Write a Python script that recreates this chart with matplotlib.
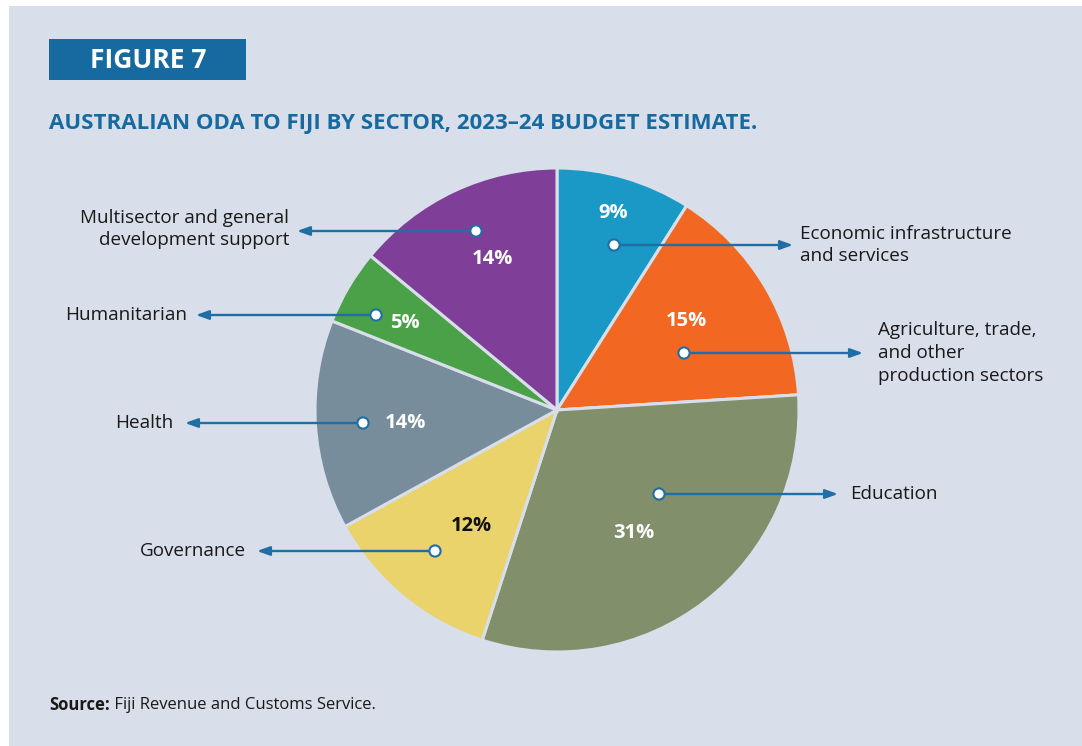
import matplotlib
matplotlib.use("Agg")
import matplotlib.pyplot as plt
from matplotlib.patches import Rectangle, Circle
import numpy as np

# Sector shares (%) of Australian ODA to Fiji, 2023-24 budget estimate
sectors = [
    "Economic infrastructure\nand services",
    "Agriculture, trade,\nand other\nproduction sectors",
    "Education",
    "Governance",
    "Health",
    "Humanitarian",
    "Multisector and general\ndevelopment support",
]
shares = [9, 15, 31, 12, 14, 5, 14]
colors = ["#1a98c6", "#f26722", "#828f6b", "#e9d36a", "#778d9c", "#4aa147", "#7f3f98"]
pct_colors = ["white", "white", "white", "#111111", "white", "white", "white"]

W, H = 1082, 746
BG = "#d8dfea"
BLUE = "#176aa0"
LINE = "#1f6fa6"
TXT = "#1a1818"
FONT = "Open Sans"

fig = plt.figure(figsize=(W / 100, H / 100), dpi=100)
fig.patch.set_facecolor("white")
ax = fig.add_axes([0, 0, 1, 1])

cx, cy, R = 557, H - 410, 242

wedges, _ = ax.pie(shares, colors=colors, startangle=90, counterclock=False,
                   center=(cx, cy), radius=R,
                   wedgeprops=dict(edgecolor=BG, linewidth=2.2))
for w in wedges:
    w.set_zorder(2)

ax.set_xlim(0, W)
ax.set_ylim(0, H)
ax.set_aspect("auto")
ax.axis("off")

# panel background
ax.add_patch(Rectangle((9, 0), W - 9, H - 6, facecolor=BG, edgecolor="none", zorder=0))

# percentage labels placed along each wedge (pixel positions, y from top)
pct_pos = [(613, 213), (686, 321), (634, 533), (471, 526), (405, 423), (405, 323), (492, 259)]
for v, (x, y), c in zip(shares, pct_pos, pct_colors):
    ax.text(x, H - y, f"{v}%", color=c, fontsize=14.5, fontweight="bold",
            fontstretch="normal", family=FONT, ha="center", va="center", zorder=5)

# leader arrows: dot position, arrow tip, text anchor
dots = [(614, 245), (684, 353), (659, 494), (435, 551), (363, 423), (376, 315), (476, 231)]
tips = [(793, 245), (863, 353), (838, 494), (257, 551), (185, 423), (196, 315), (297, 231)]
txt_pos = [(800, 245), (878, 353), (850, 494), (246, 551), (173, 423), (187, 315), (289, 229)]
for name, (dx, dy), (tx, ty), (lx, ly) in zip(sectors, dots, tips, txt_pos):
    ax.annotate("", xy=(tx, H - ty), xytext=(dx, H - dy),
                arrowprops=dict(arrowstyle="-|>,head_length=0.75,head_width=0.27",
                                color=LINE, lw=1.7, shrinkA=0, shrinkB=0),
                zorder=4)
    ax.add_patch(Circle((dx, H - dy), 5.6, facecolor="white", edgecolor=LINE,
                        lw=1.5, zorder=6))
    right = lx > cx
    ax.text(lx, H - ly, name, color=TXT, fontsize=13.6, family=FONT,
            ha="left" if right else "right", va="center",
            multialignment="left" if right else "right",
            linespacing=1.33, zorder=5)

# figure tag
ax.add_patch(Rectangle((49, H - 80), 197, 41, facecolor=BLUE, edgecolor="none", zorder=3))
ax.text(148, H - 60, "FIGURE 7", color="white", fontsize=19, fontweight="bold",
        fontstretch="normal", family=FONT, ha="center", va="center", zorder=4)

# title
ax.text(49, H - 124, "AUSTRALIAN ODA TO FIJI BY SECTOR, 2023\u201324 BUDGET ESTIMATE.",
        color=BLUE, fontsize=16, fontweight="bold", fontstretch="condensed",
        family=FONT, ha="left", va="center", zorder=4)

# source note
t = ax.text(49, H - 705, "Source:", color=TXT, fontsize=12, fontweight="bold",
            fontstretch="normal", family=FONT, ha="left", va="center")
ax.annotate(" Fiji Revenue and Customs Service.", xycoords=t, xy=(1, 0.5),
            color=TXT, fontsize=12, family=FONT, ha="left", va="center")

fig.savefig("out.png", dpi=100, facecolor=fig.get_facecolor())
